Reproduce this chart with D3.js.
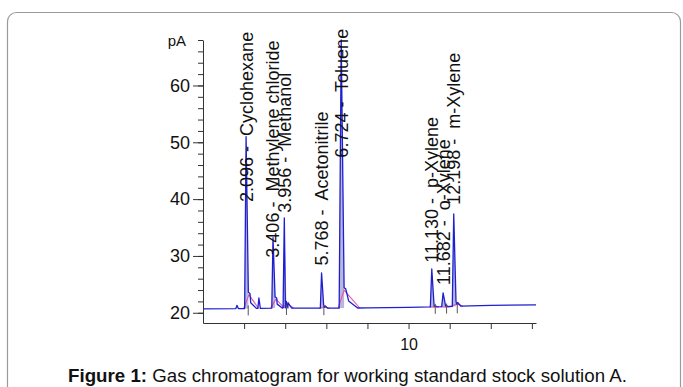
<!DOCTYPE html>
<html>
<head>
<meta charset="utf-8">
<script src="https://cdn.jsdelivr.net/npm/d3@7"></script>
<style>
  html, body { margin: 0; padding: 0; background: #fff; }
  svg { display: block; }
  text { font-family: "Liberation Sans", Arial, sans-serif; }
</style>
</head>
<body>
<script>
// ---------- data ----------
const peakTimes   = [2.096, 3.406, 3.956, 5.768, 6.724, 11.130, 11.682, 12.198];
const peakNames   = ["Cyclohexane", "Methylene chloride", "Methanol", "Acetonitrile", "Toluene", "p-Xylene", "o-Xylene", "m-Xylene"];
const peakHeights = [51.0, 33.2, 36.7, 27.0, 68.0, 27.7, 23.5, 37.4];   // pA at apex
const tailHeights = [23.6, 22.8, 22.0, 21.4, 24.4, 21.4, 21.4, 22.0];   // pA of the tail shoulder
const labelLevels = [39.5, 29.7, 37.6, 28.3, 47.3, 28.8, 24.9, 39.0];   // pA where each label starts

const minorPeakTimes   = [1.65, 2.72, 4.06];
const minorPeakHeights = [21.3, 22.6, 21.6];

const baselineTimes  = [0, 2, 4, 6, 8, 10, 12, 14, 16.2];
const baselineValues = [20.7, 20.75, 20.85, 20.8, 20.85, 20.95, 21.1, 21.3, 21.4];

const markerTimes = [2.2, 4.06, 5.88, 11.3, 11.85, 12.37];   // integration event marks

const xTickValues = [2, 4, 6, 8, 10, 12, 14, 16];
const xTickLabels = {10: "10"};
const yMajorTicks = [20, 30, 40, 50, 60];
const yMinorTicks = [20, 22, 24, 26, 28, 30, 32, 34, 36, 38, 40, 42, 44, 46, 48, 50, 52, 54, 56, 58, 60, 62, 64, 66, 68];
const yUnit = "pA";
const captionBold = "Figure 1:";
const captionText = " Gas chromatogram for working standard stock solution A.";

// ---------- layout ----------
const W = 683, H = 387;
const svg = d3.select("body").append("svg").attr("width", W).attr("height", H);

// frame
svg.append("rect")
  .attr("x", 7.5).attr("y", 12.5).attr("width", 673).attr("height", 420)
  .attr("rx", 9).attr("fill", "none").attr("stroke", "#9a9a9a").attr("stroke-width", 1.2);

const x = d3.scaleLinear().domain([0, 16.2]).range([203, 536]);
const y = d3.scaleLinear().domain([18.2, 68]).range([323, 40]);
const base = d3.scaleLinear().domain(baselineTimes).range(baselineValues);

// axes
const gx = svg.append("g").attr("transform", "translate(0,323)")
  .call(d3.axisBottom(x).tickValues(xTickValues).tickSize(6).tickSizeOuter(0)
        .tickFormat(d => xTickLabels[d] || ""));
gx.select(".domain").attr("stroke", "#333");
gx.selectAll(".tick line").attr("stroke", "#333");
gx.selectAll(".tick text").attr("font-size", 16).attr("fill", "#111").attr("dy", "1.1em")
  .attr("font-family", "Liberation Sans, Arial, sans-serif");

const gyMinor = svg.append("g").attr("transform", "translate(203,0)")
  .call(d3.axisLeft(y).tickValues(yMinorTicks).tickSize(5).tickSizeOuter(0).tickFormat(""));
gyMinor.select(".domain").attr("stroke", "#333");
gyMinor.selectAll(".tick line").attr("stroke", "#333");

const gy = svg.append("g").attr("transform", "translate(203,0)")
  .call(d3.axisLeft(y).tickValues(yMajorTicks).tickSize(10).tickSizeOuter(0).tickPadding(3));
gy.select(".domain").remove();
gy.selectAll(".tick line").attr("stroke", "#333");
gy.selectAll(".tick text").attr("font-size", 18).attr("fill", "#111")
  .attr("font-family", "Liberation Sans, Arial, sans-serif");

svg.append("text").attr("x", 186).attr("y", y(68)).attr("dy", "0.38em")
  .attr("text-anchor", "end").attr("font-size", 15).attr("fill", "#111").text(yUnit);

// ---------- trace ----------
const hw = [0.07, 0.06, 0.06, 0.06, 0.1, 0.07, 0.07, 0.07];
const tailLen = [0.5, 0.45, 0.35, 0.3, 0.8, 0.25, 0.25, 0.35];

const peakPts = peakTimes.map((t, i) => {
  const te = t + tailLen[i];
  const tm = t + tailLen[i] * 0.45;
  return [
    [t - hw[i], base(t - hw[i])],
    [t, peakHeights[i]],
    [t + hw[i] + 0.04, tailHeights[i]],
    [t + hw[i] + 0.12, tailHeights[i] - 0.2],
    [tm, base(tm) + (tailHeights[i] - base(tm)) * 0.35],
    [te, base(te)]
  ];
});
const minorPts = minorPeakTimes.map((t, i) => [
  [t - 0.05, base(t - 0.05)], [t, minorPeakHeights[i]], [t + 0.07, base(t + 0.07)]
]);

let allPts = baselineTimes.map((t, i) => [t, baselineValues[i]]);
allPts = allPts.filter(p => !peakTimes.some((t, i) => p[0] > t - hw[i] && p[0] < t + tailLen[i]));
peakPts.forEach(p => allPts = allPts.concat(p));
minorPts.forEach(p => allPts = allPts.concat(p));
allPts.sort((a, b) => a[0] - b[0]);

const line = d3.line().x(d => x(d[0])).y(d => y(d[1]));
const area = d3.area().x(d => x(d[0])).y0(d => y(base(d[0]))).y1(d => y(d[1]));

svg.append("clipPath").attr("id", "plotclip")
  .append("rect").attr("x", 203).attr("y", 38).attr("width", 340).attr("height", 285);

const plot = svg.append("g").attr("clip-path", "url(#plotclip)");

// peak area fills
plot.selectAll(".fill").data(peakPts).join("path")
  .attr("d", d => area(d.slice(0, 3)))
  .attr("fill", "#7d7dc0").attr("fill-opacity", 0.55);

// pink integration trace
plot.selectAll(".pink").data(peakTimes).join("path")
  .attr("d", (t, i) => line([
    [t - hw[i] - 0.05, base(t - hw[i] - 0.05)],
    [t + 0.14, tailHeights[i] - 0.4],
    [t + tailLen[i] + 0.1, base(t + tailLen[i] + 0.1)]
  ]))
  .attr("fill", "none").attr("stroke", "#e055a8").attr("stroke-width", 1.1);

// main blue trace
plot.append("path").attr("d", line(allPts))
  .attr("fill", "none").attr("stroke", "#1f1fcf").attr("stroke-width", 1.3)
  .attr("stroke-linejoin", "round");

// integration event marks
svg.selectAll(".mark").data(markerTimes).join("line")
  .attr("x1", d => x(d)).attr("x2", d => x(d))
  .attr("y1", d => y(base(d)) - 3).attr("y2", d => y(base(d)) + 7)
  .attr("stroke", "#555").attr("stroke-width", 1);

// peak labels
svg.selectAll(".plabel").data(peakTimes).join("text")
  .attr("transform", (t, i) => `translate(${x(t)},${y(labelLevels[i])}) rotate(-90)`)
  .attr("dy", "0.36em")
  .attr("font-size", 18).attr("fill", "#111")
  .style("white-space", "pre")
  .text((t, i) => t.toFixed(3) + " -  " + peakNames[i]);

// caption
const cap = svg.append("text").attr("x", 347.5).attr("y", 382)
  .attr("text-anchor", "middle").attr("font-size", 17).attr("fill", "#111");
cap.append("tspan").attr("font-weight", "bold").text(captionBold);
cap.append("tspan").style("white-space", "pre").text(captionText);
const cw = cap.node().getComputedTextLength();
cap.attr("font-size", 17 * 559 / cw);
</script>
</body>
</html>
